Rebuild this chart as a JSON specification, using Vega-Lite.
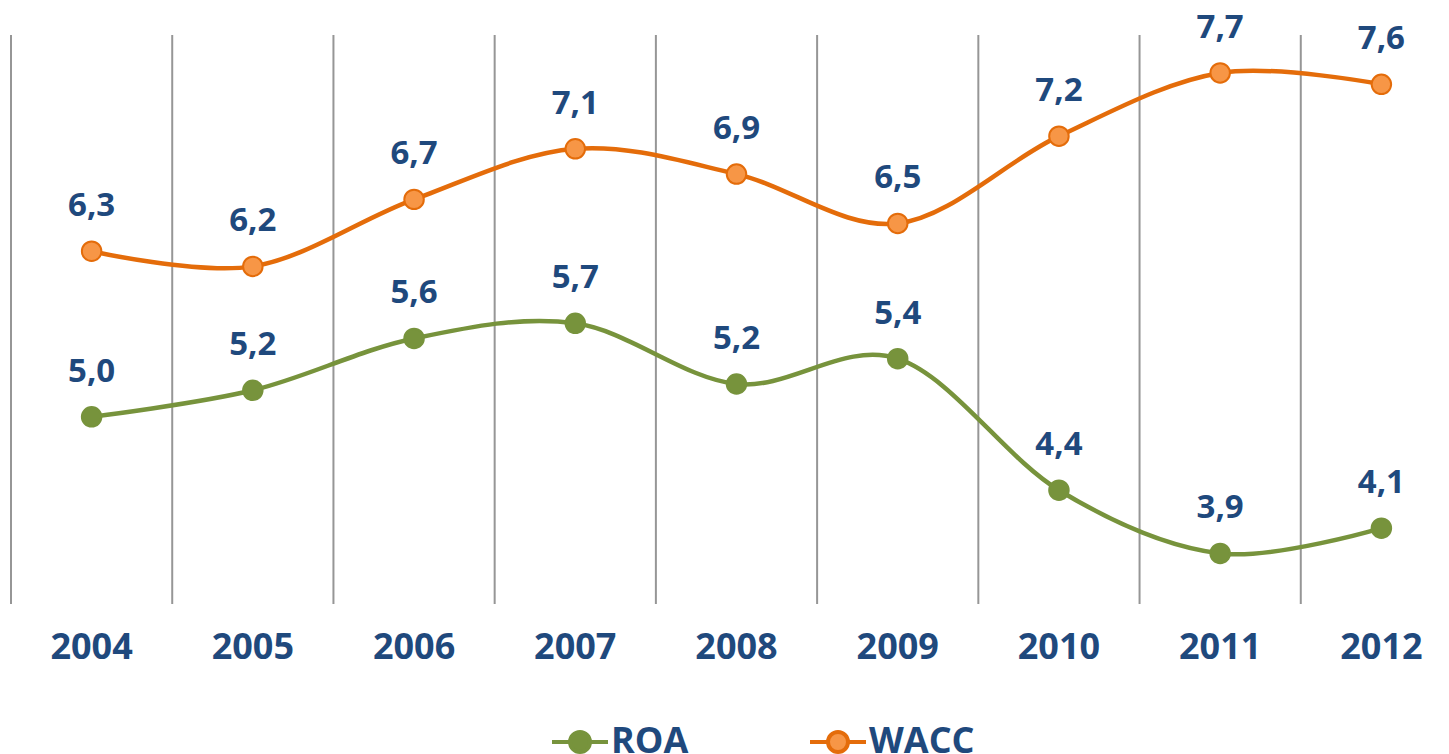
{
  "$schema": "https://vega.github.io/schema/vega-lite/v6.json",
  "width": 1438,
  "height": 569,
  "autosize": {"type": "none"},
  "padding": {"left": 11, "top": 35, "right": 0, "bottom": 150},
  "background": "white",
  "config": {
    "view": {"stroke": null},
    "locale": {"number": {"decimal": ",", "thousands": ".", "grouping": [3], "currency": ["", " €"]}}
  },
  "data": {
    "values": [
      {"year": "2004", "series": "ROA", "value": 4.98},
      {"year": "2005", "series": "ROA", "value": 5.19},
      {"year": "2006", "series": "ROA", "value": 5.60},
      {"year": "2007", "series": "ROA", "value": 5.72},
      {"year": "2008", "series": "ROA", "value": 5.24},
      {"year": "2009", "series": "ROA", "value": 5.44},
      {"year": "2010", "series": "ROA", "value": 4.40},
      {"year": "2011", "series": "ROA", "value": 3.90},
      {"year": "2012", "series": "ROA", "value": 4.10},
      {"year": "2004", "series": "WACC", "value": 6.29},
      {"year": "2005", "series": "WACC", "value": 6.17},
      {"year": "2006", "series": "WACC", "value": 6.70},
      {"year": "2007", "series": "WACC", "value": 7.10},
      {"year": "2008", "series": "WACC", "value": 6.90},
      {"year": "2009", "series": "WACC", "value": 6.51},
      {"year": "2010", "series": "WACC", "value": 7.20},
      {"year": "2011", "series": "WACC", "value": 7.70},
      {"year": "2012", "series": "WACC", "value": 7.61}
    ]
  },
  "encoding": {
    "x": {
      "field": "year",
      "type": "ordinal",
      "scale": {"type": "band", "range": [0, 1451], "paddingInner": 0, "paddingOuter": 0},
      "axis": {
        "title": null,
        "domain": false,
        "ticks": false,
        "grid": false,
        "labelAngle": 0,
        "labelFont": "Open Sans",
        "labelFontSize": 36,
        "labelFontWeight": "bold",
        "labelColor": "#1F497D",
        "labelPadding": 26
      }
    }
  },
  "layer": [
    {
      "transform": [{"filter": "datum.series === 'ROA'"}],
      "mark": {"type": "rule", "color": "#969696", "strokeWidth": 2},
      "encoding": {
        "x": {"field": "year", "type": "ordinal", "bandPosition": 0}
      }
    },
    {
      "mark": {"type": "line", "interpolate": "cardinal", "strokeWidth": 4.5},
      "encoding": {
        "y": {"field": "value", "type": "quantitative", "scale": {"domain": [3.5, 8.0], "nice": false, "zero": false}, "axis": null},
        "stroke": {
          "field": "series",
          "type": "nominal",
          "scale": {"domain": ["ROA", "WACC"], "range": ["#77933C", "#E46C0A"]},
          "legend": {
            "title": null,
            "orient": "none",
            "legendX": 551,
            "legendY": 689,
            "direction": "horizontal",
            "symbolType": "M-2.8,0L-1,0M1,0L2.8,0M-1,0A1,1,0,1,1,1,0A1,1,0,1,1,-1,0Z",
            "symbolSize": 400,
            "symbolStrokeWidth": 4,
            "labelFont": "Open Sans",
            "labelFontSize": 36,
            "labelFontWeight": "bold",
            "labelColor": "#1F497D",
            "labelOffset": 13,
            "columnPadding": 113
          }
        }
      }
    },
    {
      "mark": {"type": "circle", "size": 380, "strokeWidth": 2, "opacity": 1},
      "encoding": {
        "y": {"field": "value", "type": "quantitative"},
        "fill": {
          "field": "series",
          "type": "nominal",
          "scale": {"domain": ["ROA", "WACC"], "range": ["#77933C", "#F79646"]},
          "legend": {
            "title": null,
            "orient": "none",
            "legendX": 551,
            "legendY": 689,
            "direction": "horizontal",
            "symbolType": "M-2.8,0L-1,0M1,0L2.8,0M-1,0A1,1,0,1,1,1,0A1,1,0,1,1,-1,0Z",
            "symbolSize": 400,
            "symbolStrokeWidth": 4,
            "labelFont": "Open Sans",
            "labelFontSize": 36,
            "labelFontWeight": "bold",
            "labelColor": "#1F497D",
            "labelOffset": 13,
            "columnPadding": 113
          }
        },
        "stroke": {"field": "series", "type": "nominal"}
      }
    },
    {
      "mark": {"type": "text", "dy": -45, "font": "Open Sans", "fontSize": 33, "fontWeight": "bold", "color": "#1F497D", "baseline": "middle"},
      "encoding": {
        "y": {"field": "value", "type": "quantitative"},
        "text": {"field": "value", "type": "quantitative", "format": ".1f"}
      }
    }
  ]
}
